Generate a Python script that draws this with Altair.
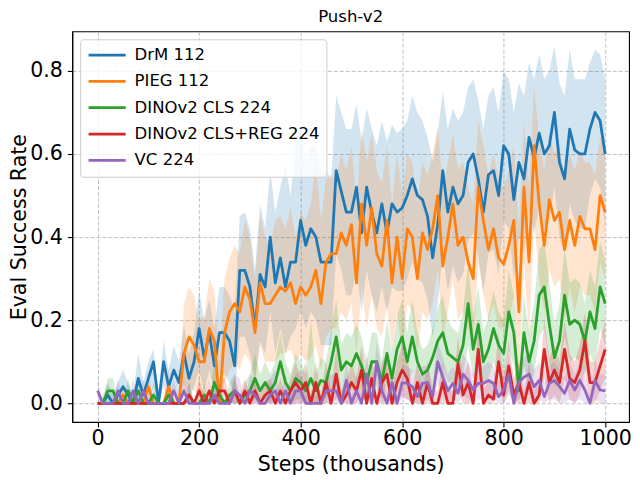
import altair as alt
import pandas as pd

SERIES = ["DrM 112", "PIEG 112", "DINOv2 CLS 224", "DINOv2 CLS+REG 224", "VC 224"]
COLORS = ["#1f77b4", "#ff7f0e", "#2ca02c", "#d62728", "#9467bd"]

STEPS = list(range(0, 1001, 10))

DRM_MEAN = [
    0.00, 0.00, 0.02, 0.00, 0.02, 0.04, 0.02, 0.00, 0.06, 0.02,
    0.06, 0.10, 0.00, 0.10, 0.04, 0.08, 0.05, 0.12, 0.06, 0.10,
    0.18, 0.11, 0.17, 0.09, 0.17, 0.17, 0.15, 0.09, 0.32, 0.32,
    0.28, 0.18, 0.31, 0.28, 0.40, 0.29, 0.35, 0.28, 0.34, 0.34,
    0.44, 0.38, 0.42, 0.40, 0.34, 0.34, 0.34, 0.56, 0.51, 0.46,
    0.46, 0.52, 0.41, 0.52, 0.46, 0.41, 0.48, 0.41, 0.48, 0.46,
    0.47, 0.50, 0.54, 0.50, 0.49, 0.45, 0.35, 0.43, 0.56, 0.46,
    0.52, 0.48, 0.50, 0.58, 0.60, 0.54, 0.46, 0.55, 0.56, 0.50,
    0.62, 0.60, 0.49, 0.58, 0.54, 0.64, 0.59, 0.65, 0.60, 0.62,
    0.70, 0.58, 0.54, 0.66, 0.61, 0.60, 0.60, 0.66, 0.70, 0.68, 0.60]
DRM_HI = [
    0.00, 0.02, 0.05, 0.02, 0.05, 0.08, 0.05, 0.02, 0.12, 0.05,
    0.10, 0.13, 0.03, 0.15, 0.08, 0.14, 0.10, 0.19, 0.12, 0.17,
    0.27, 0.20, 0.25, 0.18, 0.28, 0.28, 0.26, 0.22, 0.45, 0.46,
    0.42, 0.32, 0.48, 0.42, 0.56, 0.46, 0.52, 0.58, 0.50, 0.62,
    0.66, 0.58, 0.62, 0.62, 0.56, 0.56, 0.54, 0.74, 0.70, 0.66,
    0.66, 0.72, 0.63, 0.71, 0.66, 0.62, 0.68, 0.63, 0.67, 0.65,
    0.66, 0.68, 0.74, 0.70, 0.68, 0.64, 0.58, 0.65, 0.75, 0.66,
    0.71, 0.68, 0.70, 0.76, 0.78, 0.73, 0.66, 0.74, 0.76, 0.70,
    0.80, 0.78, 0.70, 0.77, 0.74, 0.82, 0.78, 0.84, 0.78, 0.80,
    0.86, 0.77, 0.74, 0.85, 0.78, 0.78, 0.78, 0.82, 0.85, 0.84, 0.78]
DRM_LO = [
    0.00, 0.00, 0.00, 0.00, 0.00, 0.01, 0.00, 0.00, 0.01, 0.00,
    0.01, 0.04, 0.00, 0.04, 0.00, 0.02, 0.01, 0.05, 0.01, 0.04,
    0.08, 0.03, 0.08, 0.02, 0.07, 0.07, 0.05, 0.02, 0.16, 0.16,
    0.12, 0.06, 0.15, 0.12, 0.22, 0.12, 0.18, 0.12, 0.16, 0.18,
    0.22, 0.18, 0.22, 0.20, 0.14, 0.14, 0.14, 0.36, 0.32, 0.26,
    0.26, 0.32, 0.22, 0.32, 0.26, 0.22, 0.28, 0.22, 0.28, 0.27,
    0.27, 0.30, 0.34, 0.30, 0.29, 0.25, 0.16, 0.24, 0.36, 0.27,
    0.33, 0.29, 0.31, 0.39, 0.41, 0.35, 0.27, 0.36, 0.37, 0.31,
    0.44, 0.42, 0.30, 0.40, 0.36, 0.46, 0.41, 0.47, 0.42, 0.44,
    0.52, 0.40, 0.36, 0.48, 0.44, 0.42, 0.42, 0.50, 0.54, 0.52, 0.42]

PIEG_MEAN = [
    0.00, 0.00, 0.00, 0.00, 0.00, 0.02, 0.00, 0.00, 0.00, 0.00,
    0.04, 0.00, 0.00, 0.00, 0.04, 0.00, 0.00, 0.12, 0.16, 0.14,
    0.10, 0.10, 0.18, 0.15, 0.00, 0.17, 0.22, 0.24, 0.22, 0.28,
    0.25, 0.17, 0.29, 0.24, 0.24, 0.26, 0.28, 0.27, 0.29, 0.24,
    0.28, 0.26, 0.28, 0.32, 0.24, 0.34, 0.36, 0.36, 0.41, 0.38,
    0.43, 0.29, 0.48, 0.38, 0.47, 0.36, 0.33, 0.44, 0.29, 0.40,
    0.30, 0.42, 0.40, 0.30, 0.41, 0.37, 0.42, 0.50, 0.33, 0.40,
    0.48, 0.38, 0.40, 0.34, 0.30, 0.52, 0.44, 0.37, 0.42, 0.35,
    0.335, 0.38, 0.44, 0.22, 0.52, 0.34, 0.62, 0.48, 0.38, 0.49,
    0.44, 0.46, 0.37, 0.44, 0.38, 0.45, 0.42, 0.42, 0.37, 0.50, 0.46]
PIEG_HI = [
    0.00, 0.00, 0.00, 0.00, 0.00, 0.05, 0.00, 0.00, 0.00, 0.00,
    0.08, 0.00, 0.00, 0.00, 0.08, 0.00, 0.00, 0.24, 0.28, 0.26,
    0.20, 0.21, 0.30, 0.27, 0.10, 0.30, 0.35, 0.38, 0.36, 0.44,
    0.40, 0.30, 0.45, 0.40, 0.38, 0.44, 0.45, 0.42, 0.47, 0.40,
    0.46, 0.44, 0.48, 0.58, 0.44, 0.54, 0.55, 0.54, 0.60, 0.56,
    0.62, 0.48, 0.66, 0.58, 0.65, 0.56, 0.53, 0.62, 0.48, 0.60,
    0.50, 0.60, 0.58, 0.48, 0.58, 0.55, 0.60, 0.67, 0.52, 0.58,
    0.65, 0.56, 0.58, 0.52, 0.48, 0.68, 0.62, 0.55, 0.60, 0.54,
    0.52, 0.56, 0.62, 0.42, 0.68, 0.52, 0.76, 0.64, 0.56, 0.65,
    0.60, 0.62, 0.54, 0.60, 0.56, 0.61, 0.58, 0.58, 0.55, 0.64, 0.62]
PIEG_LO = [
    0.00, 0.00, 0.00, 0.00, 0.00, 0.00, 0.00, 0.00, 0.00, 0.00,
    0.00, 0.00, 0.00, 0.00, 0.00, 0.00, 0.00, 0.02, 0.04, 0.03,
    0.02, 0.02, 0.06, 0.04, 0.00, 0.05, 0.08, 0.10, 0.08, 0.12,
    0.10, 0.04, 0.14, 0.10, 0.10, 0.10, 0.12, 0.12, 0.13, 0.10,
    0.12, 0.10, 0.11, 0.14, 0.08, 0.16, 0.18, 0.18, 0.22, 0.20,
    0.24, 0.12, 0.28, 0.18, 0.26, 0.18, 0.16, 0.24, 0.12, 0.22,
    0.12, 0.24, 0.22, 0.12, 0.22, 0.20, 0.24, 0.32, 0.16, 0.22,
    0.30, 0.20, 0.22, 0.18, 0.14, 0.34, 0.26, 0.20, 0.24, 0.18,
    0.18, 0.20, 0.26, 0.06, 0.34, 0.16, 0.44, 0.30, 0.22, 0.32,
    0.28, 0.30, 0.20, 0.28, 0.22, 0.28, 0.26, 0.26, 0.22, 0.34, 0.30]

CLS_MEAN = [
    0.00, 0.00, 0.03, 0.03, 0.00, 0.00, 0.03, 0.00, 0.03, 0.00,
    0.00, 0.02, 0.00, 0.00, 0.02, 0.00, 0.00, 0.00, 0.02, 0.00,
    0.00, 0.02, 0.00, 0.05, 0.02, 0.00, 0.02, 0.03, 0.00, 0.02,
    0.03, 0.06, 0.03, 0.05, 0.03, 0.05, 0.10, 0.05, 0.03, 0.06,
    0.05, 0.03, 0.06, 0.03, 0.055, 0.05, 0.10, 0.16, 0.08, 0.10,
    0.09, 0.12, 0.09, 0.05, 0.10, 0.10, 0.05, 0.12, 0.06, 0.13,
    0.16, 0.10, 0.16, 0.10, 0.07, 0.08, 0.11, 0.15, 0.17, 0.12,
    0.11, 0.10, 0.14, 0.24, 0.13, 0.19, 0.10, 0.13, 0.18, 0.14,
    0.12, 0.22, 0.17, 0.03, 0.17, 0.10, 0.15, 0.26, 0.28, 0.19,
    0.11, 0.15, 0.26, 0.19, 0.20, 0.19, 0.15, 0.22, 0.18, 0.28, 0.24]
CLS_HI = [
    0.00, 0.00, 0.06, 0.06, 0.00, 0.00, 0.06, 0.00, 0.06, 0.00,
    0.00, 0.05, 0.00, 0.00, 0.05, 0.00, 0.00, 0.00, 0.05, 0.00,
    0.00, 0.05, 0.00, 0.10, 0.05, 0.00, 0.05, 0.07, 0.00, 0.05,
    0.07, 0.12, 0.07, 0.10, 0.07, 0.10, 0.17, 0.10, 0.07, 0.12,
    0.10, 0.07, 0.20, 0.07, 0.11, 0.10, 0.18, 0.25, 0.14, 0.17,
    0.16, 0.19, 0.16, 0.10, 0.17, 0.17, 0.10, 0.20, 0.12, 0.21,
    0.25, 0.17, 0.25, 0.17, 0.13, 0.14, 0.18, 0.23, 0.26, 0.20,
    0.18, 0.17, 0.22, 0.34, 0.21, 0.28, 0.17, 0.21, 0.27, 0.22,
    0.20, 0.32, 0.26, 0.08, 0.26, 0.17, 0.24, 0.37, 0.39, 0.29,
    0.19, 0.24, 0.37, 0.29, 0.30, 0.29, 0.24, 0.32, 0.28, 0.39, 0.34]
CLS_LO = [
    0.00, 0.00, 0.00, 0.00, 0.00, 0.00, 0.00, 0.00, 0.00, 0.00,
    0.00, 0.00, 0.00, 0.00, 0.00, 0.00, 0.00, 0.00, 0.00, 0.00,
    0.00, 0.00, 0.00, 0.00, 0.00, 0.00, 0.00, 0.00, 0.00, 0.00,
    0.00, 0.01, 0.00, 0.01, 0.00, 0.01, 0.03, 0.01, 0.00, 0.01,
    0.01, 0.00, 0.01, 0.00, 0.01, 0.01, 0.03, 0.07, 0.02, 0.03,
    0.03, 0.05, 0.03, 0.01, 0.03, 0.04, 0.01, 0.05, 0.01, 0.05,
    0.08, 0.04, 0.08, 0.04, 0.02, 0.03, 0.04, 0.07, 0.09, 0.05,
    0.05, 0.04, 0.07, 0.14, 0.06, 0.11, 0.04, 0.06, 0.10, 0.07,
    0.05, 0.13, 0.09, 0.00, 0.09, 0.04, 0.07, 0.16, 0.18, 0.10,
    0.04, 0.07, 0.16, 0.10, 0.11, 0.10, 0.07, 0.12, 0.09, 0.18, 0.14]

REG_MEAN = [
    0.00, 0.00, 0.00, 0.00, 0.00, 0.00, 0.00, 0.00, 0.00, 0.00,
    0.00, 0.00, 0.00, 0.00, 0.00, 0.00, 0.00, 0.00, 0.02, 0.00,
    0.03, 0.00, 0.03, 0.00, 0.03, 0.03, 0.00, 0.03, 0.00, 0.03,
    0.00, 0.03, 0.00, 0.02, 0.03, 0.00, 0.03, 0.00, 0.03, 0.05,
    0.03, 0.05, 0.00, 0.05, 0.00, 0.05, 0.00, 0.07, 0.00, 0.02,
    0.05, 0.03, 0.08, 0.00, 0.06, 0.00, 0.05, 0.07, 0.00, 0.05,
    0.08, 0.06, 0.00, 0.05, 0.00, 0.05, 0.00, 0.00, 0.05, 0.00,
    0.00, 0.095, 0.02, 0.05, 0.00, 0.13, 0.00, 0.02, 0.01, 0.10,
    0.02, 0.09, 0.02, 0.05, 0.00, 0.05, 0.00, 0.02, 0.13, 0.05,
    0.08, 0.05, 0.13, 0.06, 0.05, 0.08, 0.15, 0.05, 0.05, 0.09, 0.13]
REG_HI = [
    0.00, 0.00, 0.00, 0.00, 0.00, 0.00, 0.00, 0.00, 0.00, 0.00,
    0.00, 0.00, 0.00, 0.00, 0.00, 0.00, 0.00, 0.00, 0.05, 0.00,
    0.06, 0.02, 0.06, 0.02, 0.06, 0.06, 0.02, 0.06, 0.02, 0.06,
    0.02, 0.06, 0.02, 0.05, 0.06, 0.02, 0.06, 0.02, 0.06, 0.10,
    0.06, 0.10, 0.02, 0.10, 0.02, 0.10, 0.03, 0.13, 0.03, 0.05,
    0.10, 0.06, 0.14, 0.03, 0.11, 0.03, 0.10, 0.12, 0.03, 0.10,
    0.14, 0.11, 0.03, 0.10, 0.03, 0.10, 0.03, 0.03, 0.10, 0.03,
    0.03, 0.16, 0.06, 0.10, 0.03, 0.20, 0.03, 0.06, 0.05, 0.17,
    0.06, 0.15, 0.06, 0.10, 0.03, 0.10, 0.03, 0.06, 0.20, 0.11,
    0.14, 0.10, 0.20, 0.12, 0.10, 0.14, 0.22, 0.10, 0.10, 0.15, 0.20]
REG_LO = [
    0.00, 0.00, 0.00, 0.00, 0.00, 0.00, 0.00, 0.00, 0.00, 0.00,
    0.00, 0.00, 0.00, 0.00, 0.00, 0.00, 0.00, 0.00, 0.00, 0.00,
    0.00, 0.00, 0.00, 0.00, 0.00, 0.00, 0.00, 0.00, 0.00, 0.00,
    0.00, 0.00, 0.00, 0.00, 0.00, 0.00, 0.00, 0.00, 0.00, 0.00,
    0.00, 0.00, 0.00, 0.00, 0.00, 0.00, 0.00, 0.01, 0.00, 0.00,
    0.00, 0.00, 0.02, 0.00, 0.00, 0.00, 0.00, 0.01, 0.00, 0.00,
    0.02, 0.01, 0.00, 0.00, 0.00, 0.00, 0.00, 0.00, 0.00, 0.00,
    0.00, 0.03, 0.00, 0.00, 0.00, 0.05, 0.00, 0.00, 0.00, 0.03,
    0.00, 0.03, 0.00, 0.00, 0.00, 0.00, 0.00, 0.00, 0.06, 0.00,
    0.02, 0.00, 0.06, 0.01, 0.00, 0.02, 0.08, 0.00, 0.00, 0.03, 0.06]

VC_MEAN = [
    0.03, 0.00, 0.00, 0.00, 0.03, 0.00, 0.00, 0.03, 0.00, 0.03,
    0.00, 0.00, 0.00, 0.00, 0.00, 0.03, 0.00, 0.03, 0.00, 0.00,
    0.00, 0.00, 0.00, 0.02, 0.00, 0.00, 0.00, 0.03, 0.02, 0.00,
    0.03, 0.02, 0.00, 0.00, 0.02, 0.03, 0.00, 0.03, 0.00, 0.03,
    0.03, 0.00, 0.00, 0.00, 0.00, 0.03, 0.03, 0.03, 0.00, 0.055,
    0.00, 0.03, 0.00, 0.07, 0.00, 0.10, 0.03, 0.00, 0.05, 0.00,
    0.05, 0.048, 0.04, 0.016, 0.048, 0.05, 0.016, 0.10, 0.063, 0.03,
    0.048, 0.024, 0.07, 0.055, 0.032, 0.048, 0.048, 0.055, 0.048, 0.016,
    0.032, 0.07, 0.00, 0.05, 0.063, 0.07, 0.04, 0.055, 0.016, 0.048,
    0.055, 0.04, 0.024, 0.055, 0.032, 0.055, 0.032, 0.00, 0.055, 0.032, 0.03]
VC_HI = [
    0.06, 0.00, 0.00, 0.00, 0.06, 0.00, 0.00, 0.06, 0.00, 0.06,
    0.00, 0.00, 0.00, 0.00, 0.00, 0.06, 0.00, 0.06, 0.00, 0.00,
    0.00, 0.00, 0.00, 0.06, 0.00, 0.00, 0.00, 0.07, 0.06, 0.00,
    0.07, 0.06, 0.00, 0.02, 0.06, 0.08, 0.02, 0.07, 0.02, 0.07,
    0.08, 0.02, 0.02, 0.02, 0.02, 0.07, 0.07, 0.07, 0.02, 0.10,
    0.02, 0.07, 0.02, 0.12, 0.02, 0.15, 0.07, 0.02, 0.09, 0.02,
    0.09, 0.09, 0.08, 0.04, 0.09, 0.09, 0.04, 0.15, 0.11, 0.07,
    0.09, 0.06, 0.12, 0.10, 0.07, 0.09, 0.09, 0.10, 0.09, 0.05,
    0.07, 0.12, 0.02, 0.09, 0.11, 0.12, 0.08, 0.10, 0.05, 0.09,
    0.10, 0.08, 0.06, 0.10, 0.07, 0.10, 0.07, 0.02, 0.10, 0.07, 0.07]
VC_LO = [
    0.00, 0.00, 0.00, 0.00, 0.00, 0.00, 0.00, 0.00, 0.00, 0.00,
    0.00, 0.00, 0.00, 0.00, 0.00, 0.00, 0.00, 0.00, 0.00, 0.00,
    0.00, 0.00, 0.00, 0.00, 0.00, 0.00, 0.00, 0.00, 0.00, 0.00,
    0.00, 0.00, 0.00, 0.00, 0.00, 0.00, 0.00, 0.00, 0.00, 0.00,
    0.00, 0.00, 0.00, 0.00, 0.00, 0.00, 0.00, 0.00, 0.00, 0.00,
    0.00, 0.00, 0.00, 0.02, 0.00, 0.05, 0.00, 0.00, 0.00, 0.00,
    0.01, 0.01, 0.00, 0.00, 0.01, 0.01, 0.00, 0.05, 0.02, 0.00,
    0.01, 0.00, 0.02, 0.01, 0.00, 0.01, 0.01, 0.01, 0.01, 0.00,
    0.00, 0.02, 0.00, 0.01, 0.02, 0.02, 0.00, 0.01, 0.00, 0.01,
    0.01, 0.00, 0.00, 0.01, 0.00, 0.01, 0.00, 0.00, 0.01, 0.00, 0.00]

MEANS = [DRM_MEAN, PIEG_MEAN, CLS_MEAN, REG_MEAN, VC_MEAN]
LOS = [DRM_LO, PIEG_LO, CLS_LO, REG_LO, VC_LO]
HIS = [DRM_HI, PIEG_HI, CLS_HI, REG_HI, VC_HI]

rows = []
for name, m, lo, hi in zip(SERIES, MEANS, LOS, HIS):
    for s, a, b, c in zip(STEPS, m, lo, hi):
        rows.append({"step": s, "series": name, "mean": a, "lo": b, "hi": c})
df = pd.DataFrame(rows)

FONT = "DejaVu Sans"

x_enc = alt.X("step:Q",
              scale=alt.Scale(domain=[-50, 1047], nice=False, zero=False),
              axis=alt.Axis(values=[0, 200, 400, 600, 800, 1000], format="d",
                            title="Steps (thousands)"))
y_scale = alt.Scale(domain=[-0.045, 0.895], nice=False, zero=False)
y_axis = alt.Axis(values=[0.0, 0.2, 0.4, 0.6, 0.8], format=".1f", title="Eval Success Rate")

# short symbol footprint (15px) so rows stay tight, but a long drawn handle
legend = alt.Legend(title=None, orient="none", legendX=8, legendY=8,
                    symbolType="M-1,0H4", symbolSize=225, symbolStrokeWidth=2.8,
                    labelFontSize=16.7, labelFont=FONT, labelColor="black",
                    labelLimit=400, labelOffset=30, rowPadding=8.6, padding=7,
                    strokeColor="#cccccc", fillColor="rgba(255,255,255,0.8)",
                    cornerRadius=3)

color_scale = alt.Scale(domain=SERIES, range=COLORS)

base = alt.Chart(df)
areas = []
lines = []
for name, col in zip(SERIES, COLORS):
    sub = base.transform_filter(alt.datum.series == name)
    areas.append(sub.mark_area(opacity=0.2).encode(
        x=x_enc,
        y=alt.Y("lo:Q", scale=y_scale, axis=y_axis),
        y2="hi:Q",
        fill=alt.value(col),
    ))
    lines.append(sub.mark_line(strokeWidth=2.8, strokeJoin="round").encode(
        x=x_enc,
        y=alt.Y("mean:Q", scale=y_scale, axis=y_axis),
        color=alt.Color("series:N", scale=color_scale, legend=legend),
    ))

chart = alt.layer(*(areas + lines)).properties(
    width=563, height=395,
    autosize=alt.AutoSizeParams(type="none"),
    padding={"left": 65, "top": 21, "right": 3, "bottom": 56},
    title=alt.TitleParams("Push-v2", fontSize=16.7, fontWeight="normal", font=FONT,
                          color="black", anchor="middle", frame="group", offset=6),
).configure_view(
    stroke="black", strokeWidth=1.1
).configure_axis(
    labelFont=FONT, titleFont=FONT, labelFontSize=20.8, titleFontSize=20.8,
    titleFontWeight="normal", labelColor="black", titleColor="black",
    domainColor="black", domainWidth=1.1, tickColor="black", tickWidth=1.1,
    tickSize=5, grid=True, gridColor="#b0b0b0", gridDash=[4, 2], gridWidth=0.8,
).configure_axisX(
    labelPadding=2, titlePadding=6,
).configure_axisY(
    labelPadding=5, titlePadding=0,
)

chart.save("out.html", embed_options={"renderer": "svg", "actions": False})
